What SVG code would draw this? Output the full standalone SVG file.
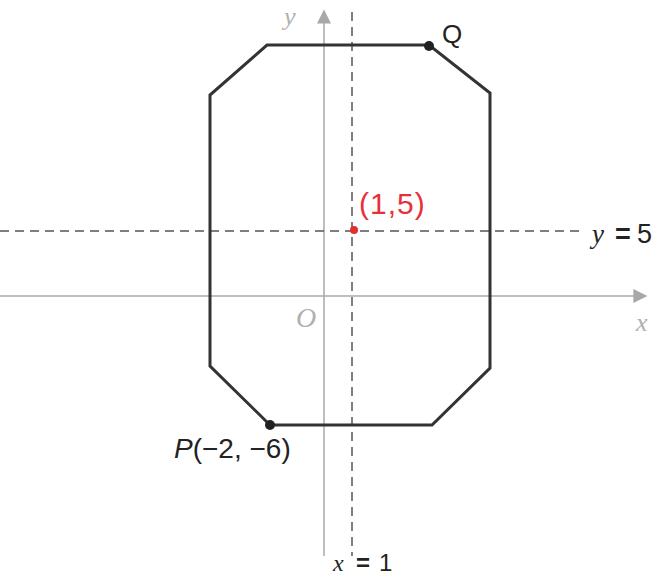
<svg xmlns="http://www.w3.org/2000/svg" width="655" height="578" viewBox="0 0 655 578">
<style>
.axis{stroke:#a8a8a8;stroke-width:1.5;fill:none}
.dash{stroke:#555;stroke-width:1.5;stroke-dasharray:9,6;fill:none}
.lbl{font-family:"Liberation Sans",Arial,sans-serif;fill:#222}
.ital{font-family:"Liberation Serif","Times New Roman",serif;font-style:italic}
.gray{fill:#b0b0b0}
</style>
<defs>
<marker id="ahl" viewBox="0 0 10 10" refX="9" refY="5" markerWidth="16" markerHeight="14" orient="auto" markerUnits="userSpaceOnUse">
<path d="M0,0 L10,5 L0,10 Z" fill="#a8a8a8"/>
</marker>
</defs>
<rect width="655" height="578" fill="#fff"/>
<g id="connectors">
<line class="axis" x1="0" y1="296" x2="646" y2="296" marker-end="url(#ahl)"/>
<line class="axis" x1="324" y1="556" x2="324" y2="11" marker-end="url(#ahl)"/>
<line class="dash" x1="0" y1="231" x2="581" y2="231"/>
<line class="dash" x1="352" y1="12" x2="352" y2="556"/>
</g>
<g id="octagon">
<polygon points="267,45 429,45 490,93 490,368 432,425 270,425 210,366 210,95" fill="none" stroke="#333" stroke-width="3" stroke-linejoin="miter"/>
</g>
<g id="Q">
<circle cx="429" cy="46" r="5" fill="#222"/>
<text class="lbl" x="442" y="43" font-size="26">Q</text>
</g>
<g id="P">
<circle cx="270" cy="425" r="5" fill="#222"/>
<text class="lbl" x="174" y="458" font-size="28"><tspan font-style="italic">P</tspan>(−2, −6)</text>
</g>
<g id="point15">
<circle cx="354" cy="230" r="4" fill="#e03030"/>
<text x="359" y="214" font-family="'Liberation Sans',Arial,sans-serif" font-size="30" fill="#e8303a" letter-spacing="1">(1,5)</text>
</g>
<g id="labels">
<text class="lbl" y="243" font-size="27"><tspan class="ital" x="592">y</tspan><tspan x="615" font-weight="bold">=</tspan><tspan x="637">5</tspan></text>
<text class="lbl" y="571" font-size="24"><tspan class="ital" x="333">x</tspan><tspan x="356" font-weight="bold">=</tspan><tspan x="379">1</tspan></text>
<text class="ital gray" x="284" y="25" font-size="26">y</text>
<text class="ital gray" x="296" y="327" font-size="28">O</text>
<text class="ital gray" x="636" y="331" font-size="26">x</text>
</g>
</svg>
